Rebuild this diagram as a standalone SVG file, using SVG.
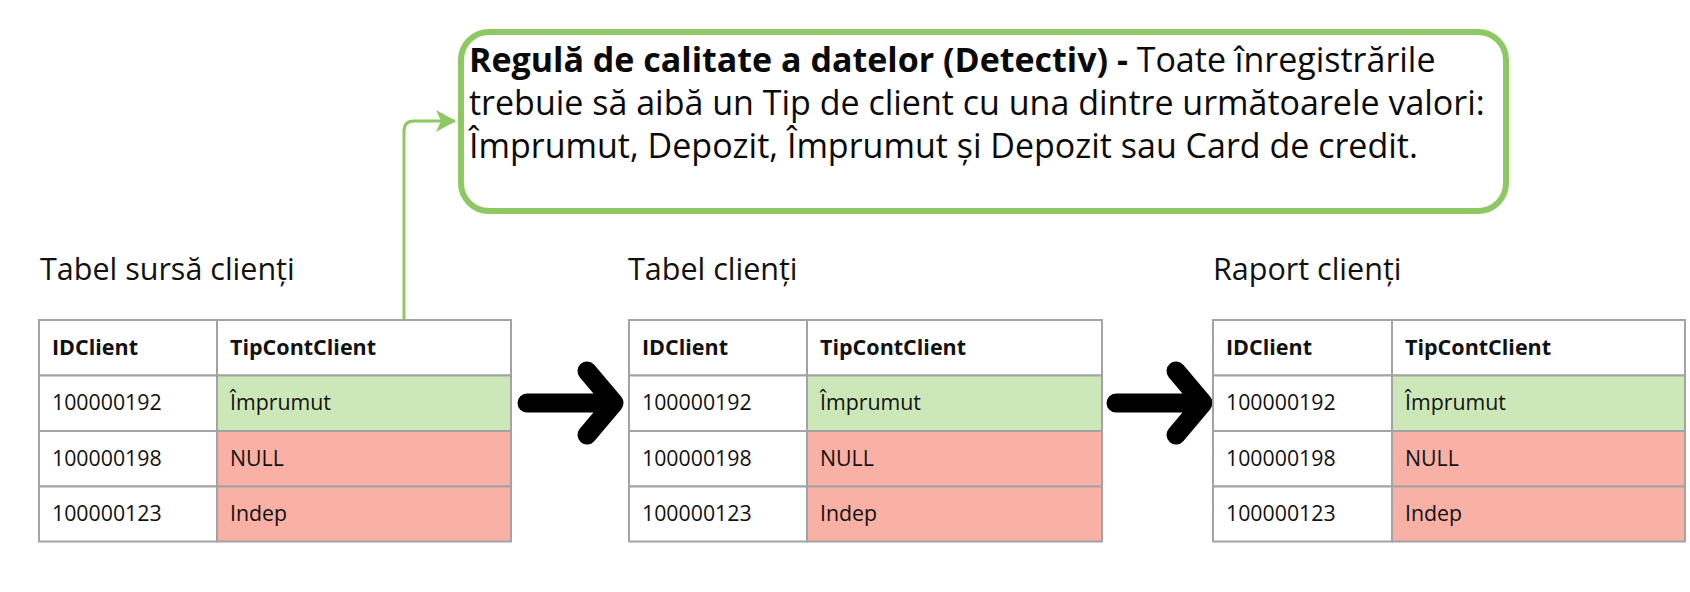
<svg xmlns="http://www.w3.org/2000/svg" width="1690" height="592" viewBox="0 0 1690 592">
  <defs>
    <marker id="gh" viewBox="0 0 20 22" markerWidth="20" markerHeight="22" refX="19" refY="11" orient="auto" markerUnits="userSpaceOnUse">
      <path d="M0 0 L20 11 L0 22 L5 11 Z" fill="#8DC863"/>
    </marker>
  </defs>
  <style>
    text { font-family: "Open Sans", "Noto Sans", "Liberation Sans", sans-serif; fill: #111; }
    .rule { font-size: 34px; fill: #0a0a0a; }
    .b { font-weight: 700; }
    .lbl { font-size: 30.5px; }
    .th { font-size: 21.5px; font-weight: 700; }
    .td { font-size: 21.3px; }
    .cell { stroke: #A3A3A3; stroke-width: 2; }
    .w { fill: #FFFFFF; }
    .g { fill: #CDE8B8; }
    .r { fill: #F8B1A4; }
    .chev { fill: none; stroke: #000; stroke-width: 19; stroke-linecap: round; stroke-linejoin: round; }
  </style>
  <rect width="1690" height="592" fill="#FFFFFF"/>

  <g id="connectors">
    <path d="M404 320 V131 Q404 121 414 121 H455" fill="none" stroke="#8DC863" stroke-width="3" marker-end="url(#gh)"/>
    <path class="chev" d="M527 403 H612 M587 371 L614 403 L587 435"/>
    <path class="chev" d="M1116 403 H1201 M1176 371 L1203 403 L1176 435"/>
  </g>

  <g id="rule">
    <rect x="461" y="32" width="1045" height="179" rx="28" fill="#FFFFFF" stroke="#8DC863" stroke-width="6"/>
    <text class="rule" x="469" y="72"><tspan class="b">Regulă de calitate a datelor (Detectiv) -</tspan> Toate înregistrările</text>
    <text class="rule" x="469" y="115">trebuie să aibă un Tip de client cu una dintre următoarele valori:</text>
    <text class="rule" x="469" y="158">Împrumut, Depozit, Împrumut și Depozit sau Card de credit.</text>
  </g>

  <g id="t1">
    <text class="lbl" x="40" y="280">Tabel sursă clienți</text>
    <rect class="cell w" x="39" y="320" width="178" height="55.5"/>
    <rect class="cell w" x="217" y="320" width="294" height="55.5"/>
    <rect class="cell w" x="39" y="375.5" width="178" height="55.5"/>
    <rect class="cell g" x="217" y="375.5" width="294" height="55.5"/>
    <rect class="cell w" x="39" y="431" width="178" height="55.5"/>
    <rect class="cell r" x="217" y="431" width="294" height="55.5"/>
    <rect class="cell w" x="39" y="486.5" width="178" height="55"/>
    <rect class="cell r" x="217" y="486.5" width="294" height="55"/>
    <text class="th" x="52" y="355">IDClient</text>
    <text class="th" x="230" y="355">TipContClient</text>
    <text class="td" x="52" y="410">100000192</text>
    <text class="td" x="230" y="410">Împrumut</text>
    <text class="td" x="52" y="466">100000198</text>
    <text class="td" x="230" y="466">NULL</text>
    <text class="td" x="52" y="521">100000123</text>
    <text class="td" x="230" y="521">Indep</text>
  </g>

  <g id="t2">
    <text class="lbl" x="628" y="280">Tabel clienți</text>
    <rect class="cell w" x="629" y="320" width="178" height="55.5"/>
    <rect class="cell w" x="807" y="320" width="295" height="55.5"/>
    <rect class="cell w" x="629" y="375.5" width="178" height="55.5"/>
    <rect class="cell g" x="807" y="375.5" width="295" height="55.5"/>
    <rect class="cell w" x="629" y="431" width="178" height="55.5"/>
    <rect class="cell r" x="807" y="431" width="295" height="55.5"/>
    <rect class="cell w" x="629" y="486.5" width="178" height="55"/>
    <rect class="cell r" x="807" y="486.5" width="295" height="55"/>
    <text class="th" x="642" y="355">IDClient</text>
    <text class="th" x="820" y="355">TipContClient</text>
    <text class="td" x="642" y="410">100000192</text>
    <text class="td" x="820" y="410">Împrumut</text>
    <text class="td" x="642" y="466">100000198</text>
    <text class="td" x="820" y="466">NULL</text>
    <text class="td" x="642" y="521">100000123</text>
    <text class="td" x="820" y="521">Indep</text>
  </g>

  <g id="t3">
    <text class="lbl" x="1213" y="280">Raport clienți</text>
    <rect class="cell w" x="1213" y="320" width="179" height="55.5"/>
    <rect class="cell w" x="1392" y="320" width="293" height="55.5"/>
    <rect class="cell w" x="1213" y="375.5" width="179" height="55.5"/>
    <rect class="cell g" x="1392" y="375.5" width="293" height="55.5"/>
    <rect class="cell w" x="1213" y="431" width="179" height="55.5"/>
    <rect class="cell r" x="1392" y="431" width="293" height="55.5"/>
    <rect class="cell w" x="1213" y="486.5" width="179" height="55"/>
    <rect class="cell r" x="1392" y="486.5" width="293" height="55"/>
    <text class="th" x="1226" y="355">IDClient</text>
    <text class="th" x="1405" y="355">TipContClient</text>
    <text class="td" x="1226" y="410">100000192</text>
    <text class="td" x="1405" y="410">Împrumut</text>
    <text class="td" x="1226" y="466">100000198</text>
    <text class="td" x="1405" y="466">NULL</text>
    <text class="td" x="1226" y="521">100000123</text>
    <text class="td" x="1405" y="521">Indep</text>
  </g>
</svg>
